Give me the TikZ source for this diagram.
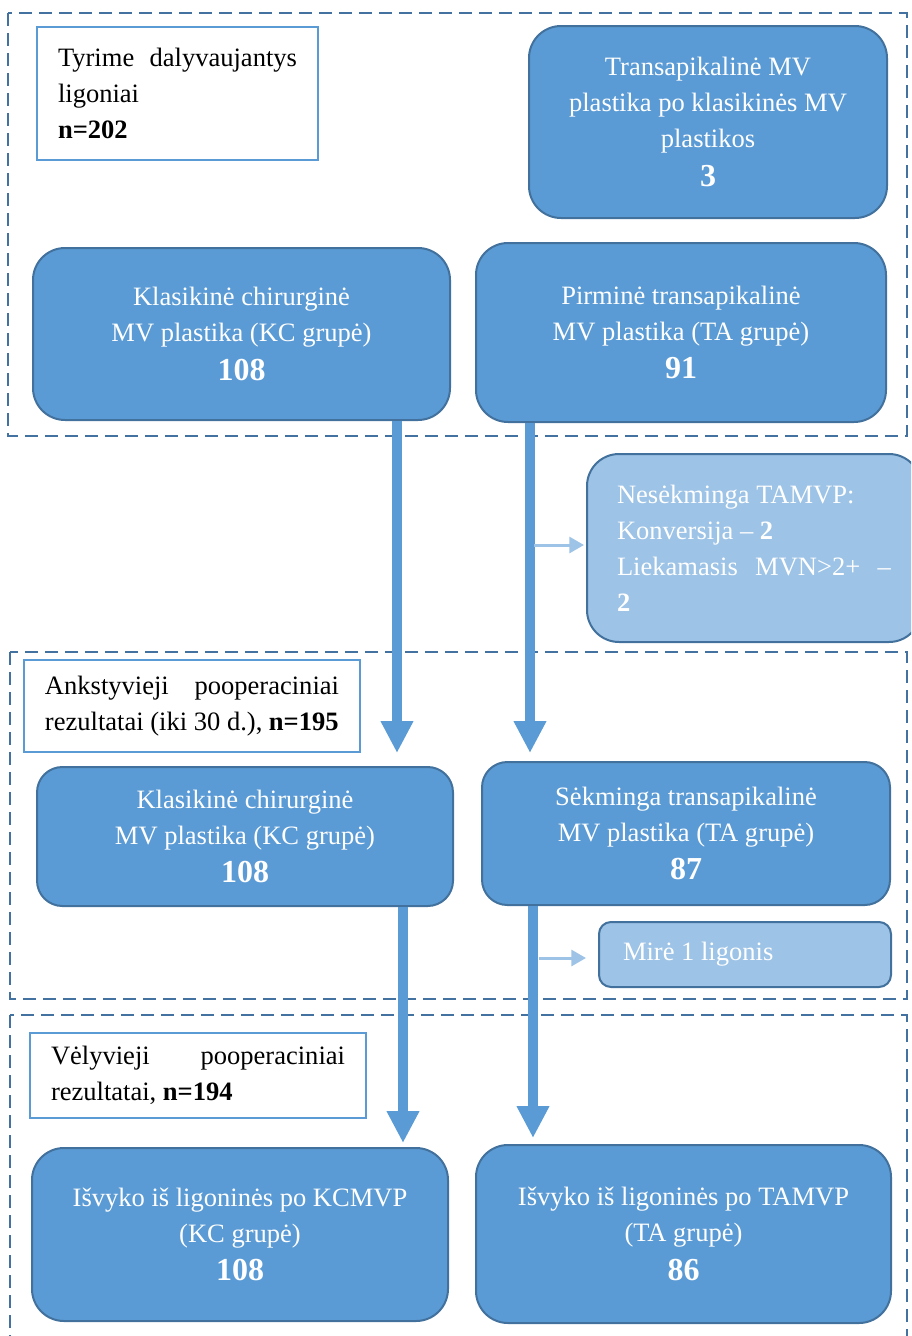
\documentclass[tikz,border=0pt]{standalone}
\usepackage{fontspec}
\setmainfont{Liberation Serif}
\usepackage{tikz}
\usetikzlibrary{
    arrows.meta,
    calc
}
\definecolor{boxblue}{RGB}{91,155,213}
\definecolor{boxedge}{RGB}{65,113,156}
\definecolor{lightblue}{RGB}{157,195,230}
\definecolor{framecol}{RGB}{68,114,160}
\newcommand{\cnt}[1]{{\fontsize{24}{29}\selectfont\bfseries #1}}
\tikzset{
    cohort/.style={
        rectangle,
        draw=boxedge,
        fill=boxblue,
        rounded corners=24pt,
        text=white,
        align=center,
        font=\fontsize{19.9}{27}\selectfont,
        line width=1.5pt
    },
    outcome/.style={
        cohort,
        fill=lightblue,
        align=flush left
    },
    note/.style={
        rectangle,
        draw=boxblue,
        fill=white,
        align=flush left,
        font=\fontsize{19.9}{27}\selectfont,
        line width=1pt
    },
    stage/.style={
        draw=framecol,
        line width=2pt,
        dash pattern=on 10pt off 5pt
    },
    flow/.style={
        -{Triangle[width=23pt,length=24pt]},
        draw=boxblue,
        line width=7.5pt
    },
    branch/.style={
        -{Triangle[width=12pt,length=11pt]},
        draw=lightblue,
        line width=2.25pt
    }
}

\begin{document}
\begin{tikzpicture}[x=0.75pt, y=-0.75pt]
    \path[use as bounding box, clip] (0,0) rectangle (911,1336);

    % Stages
    \draw[stage] (8,13) rectangle (907,436);
    \draw[stage] (10,652) rectangle (907,999);
    \draw[stage] (10,1015) rectangle (907,1360);

    % Inclusion
    \node[note, minimum width=210.75pt, minimum height=99.75pt, text width=179.25pt] (intro) at (177.5,93.5)
        {Tyrime\hfill dalyvaujantys\\ligoniai\\\textbf{n=202}};
    \node[cohort, minimum width=268.5pt, minimum height=144pt] (redo) at (708,122)
        {Transapikalinė MV\\plastika po klasikinės MV\\plastikos\\[2pt]\cnt{3}};
    \node[cohort, minimum width=312.75pt, minimum height=129pt] (kc1) at (241.5,334)
        {Klasikinė chirurginė\\MV plastika (KC grupė)\\[2pt]\cnt{108}};
    \node[cohort, minimum width=307.5pt, minimum height=134.25pt] (ta1) at (681,332.5)
        {Pirminė transapikalinė\\MV plastika (TA grupė)\\[2pt]\cnt{91}};
    \node[outcome, minimum width=250.5pt, minimum height=141pt, text width=205.5pt] (fail) at (754,548)
        {Nesėkminga TAMVP:\\Konversija – \textbf{2}\\Liekamasis\hfill MVN>2+\hfill –\\\textbf{2}};

    % Early results
    \node[note, minimum width=252pt, minimum height=69pt, text width=220.5pt] (early) at (192,706)
        {Ankstyvieji\hfill pooperaciniai\\\mbox{rezultatai (iki 30 d.), \textbf{n=195}}};
    \node[cohort, rounded corners=19pt, minimum width=312pt, minimum height=104.25pt] (kc2) at (245,836.5)
        {Klasikinė chirurginė\\MV plastika (KC grupė)\\[2pt]\cnt{108}};
    \node[cohort, rounded corners=19pt, minimum width=306pt, minimum height=107.25pt] (ta2) at (686,833.5)
        {Sėkminga transapikalinė\\MV plastika (TA grupė)\\[2pt]\cnt{87}};
    \node[outcome, rounded corners=9pt, minimum width=219pt, minimum height=48.75pt, text width=183pt] (died) at (745,954.5)
        {Mirė 1 ligonis};

    % Late results
    \node[note, minimum width=252pt, minimum height=63.75pt, text width=220.5pt] (late) at (198,1075.5)
        {Vėlyvieji\hfill pooperaciniai\\rezultatai, \textbf{n=194}};
    \node[cohort, minimum width=312pt, minimum height=129.75pt] (kc3) at (240,1234.5)
        {Išvyko iš ligoninės po KCMVP\\(KC grupė)\\[2pt]\cnt{108}};
    \node[cohort, minimum width=311.25pt, minimum height=133.5pt] (ta3) at (683.5,1234)
        {Išvyko iš ligoninės po TAMVP\\(TA grupė)\\[2pt]\cnt{86}};

    % Flows
    \draw[flow] (kc1.south) ++(155.5,0) -- ++(0,332);
    \draw[flow] (ta1.south) ++(-151,0) -- ++(0,330);
    \draw[flow] (kc2.south) ++(158,0) -- ++(0,236);
    \draw[flow] (ta2.south) ++(-153,0) -- ++(0,232);
    \draw[branch] ($(fail.west)+(-52,-3)$) -- ++(50,0);
    \draw[branch] ($(died.west)+(-59,3.5)$) -- ++(47,0);
\end{tikzpicture}
\end{document}
